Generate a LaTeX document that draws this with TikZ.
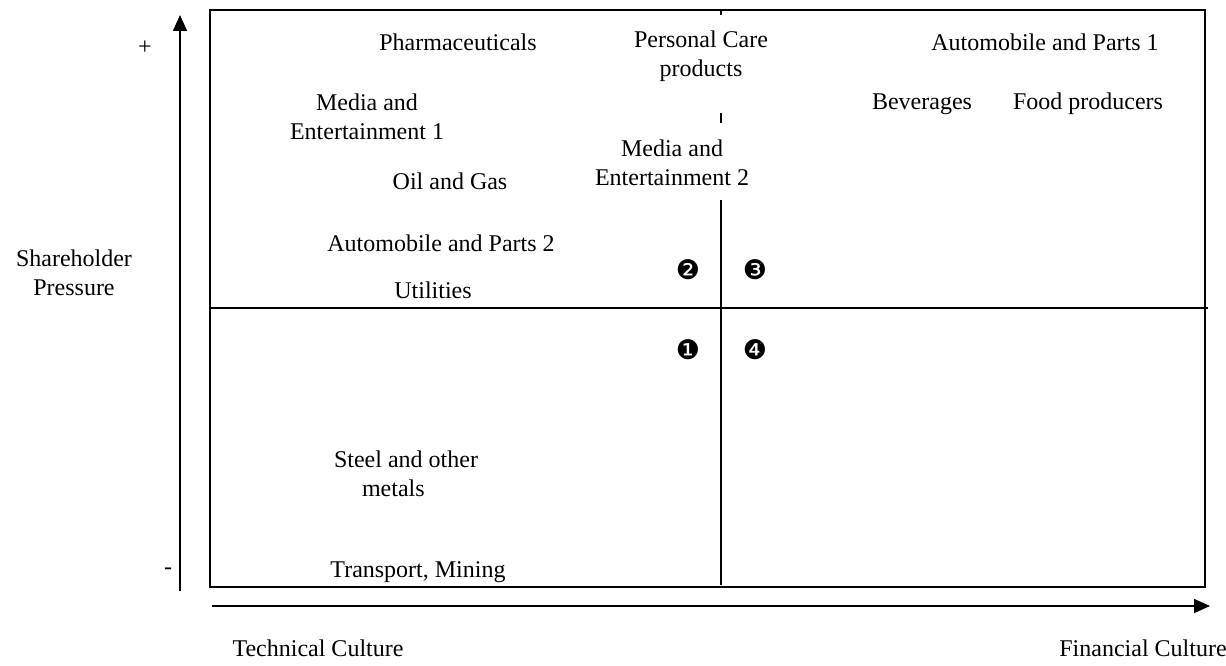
\documentclass[tikz,border=0pt]{standalone}
\usepackage{fontspec}
\setmainfont{Liberation Serif}
\newfontfamily\dingfont{DejaVu Sans}
\usetikzlibrary{arrows.meta}
\begin{document}
\begin{tikzpicture}[x=1pt,y=-1pt,
  lbl/.style={inner sep=0pt,align=center,font=\fontsize{24}{28.5}\selectfont},
  num/.style={inner sep=0pt,font=\dingfont\fontsize{27}{30}\selectfont},
  frameline/.style={line width=2pt},
  midline/.style={line width=1.6pt},
  axis/.style={line width=1.6pt,-{Triangle[length=16pt,width=14pt]}}]
\useasboundingbox (0,0) rectangle (1226,666);
% frame
\draw[frameline] (210,10) rectangle (1205,587);
% quadrant lines
\coordinate (hl) at (210,308);
\coordinate (hr) at (1208,308);
\draw[midline] (hl) -- (hr);
\coordinate (v0) at (721,10);
\coordinate (v1) at (721,15);
\coordinate (v2) at (721,113);
\coordinate (v3) at (721,123);
\coordinate (v4) at (721,200);
\coordinate (v5) at (721,585);
\draw[midline] (v0) -- (v1);
\draw[midline] (v2) -- (v3);
\draw[midline] (v4) -- (v5);
% axes
\coordinate (ya) at (180,591);
\coordinate (yb) at (180,15);
\coordinate (xa) at (212,606);
\coordinate (xb) at (1210,606);
\draw[axis] (ya) -- (yb);
\draw[axis] (xa) -- (xb);
% axis labels
\node[lbl] (plus) at (145,48) {+};
\node[lbl] (minus) at (168,571) {-};
\node[lbl] (sp) at (74,273) {Shareholder\\Pressure};
\node[lbl] (tc) at (318,648) {Technical Culture};
\node[lbl] (fc) at (1143,648) {Financial Culture};
% sectors
\node[lbl] (ph) at (458,42) {Pharmaceuticals};
\node[lbl] (pc) at (701,56) {Personal Care\\products};
\node[lbl] (ap1) at (1045,42) {Automobile and Parts 1};
\node[lbl] (me1) at (367,117) {Media and\\Entertainment 1};
\node[lbl] (bev) at (922,104) {Beverages};
\node[lbl] (fp) at (1088,104) {Food producers};
\node[lbl] (me2) at (672,163) {Media and\\Entertainment 2};
\node[lbl] (og) at (450,181) {Oil and Gas};
\node[lbl] (ap2) at (441,243) {Automobile and Parts 2};
\node[lbl] (ut) at (433,290) {Utilities};
\node[lbl,align=left] (st) at (406,474) {Steel and other\\\hspace*{28pt}metals};
\node[lbl] (tm) at (418,572) {Transport, Mining};
% quadrant numbers
\node[num] (q2) at (688,270) {❷};
\node[num] (q3) at (755,270) {❸};
\node[num] (q1) at (688,350) {❶};
\node[num] (q4) at (755,350) {❹};
\end{tikzpicture}
\end{document}
